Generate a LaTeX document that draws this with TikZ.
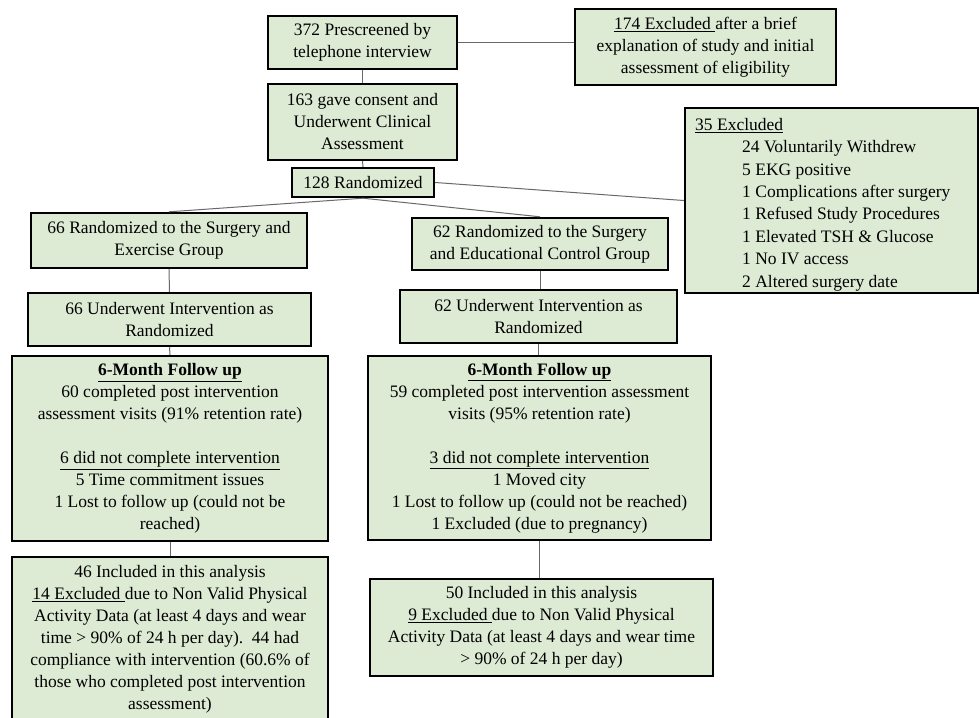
\documentclass[tikz,border=0pt]{standalone}
\usepackage{fontspec}
\setmainfont{Liberation Serif}
\definecolor{boxfill}{RGB}{221,234,212}
\definecolor{linkgray}{RGB}{105,105,105}
\tikzset{
  box/.style={draw=black, line width=2.4pt, fill=boxfill, align=center, inner sep=0pt,
    font=\fontsize{17.5}{22}\selectfont},
  link/.style={draw=linkgray, line width=1pt}
}
\begin{document}
\begin{tikzpicture}[x=1pt,y=-1pt]
\useasboundingbox (0,0) rectangle (979,717);
\clip (0,0) rectangle (979,717);
\fill[white] (0,0) rectangle (979,717);

\node[box, minimum width=189pt, minimum height=53pt] (A) at (362.5,42.5)
  {372 Prescreened by\\telephone interview};
\node[box, minimum width=189pt, minimum height=76pt] (B) at (362.5,122)
  {163 gave consent and\\Underwent Clinical\\Assessment};
\node[box, minimum width=142pt, minimum height=29pt] (C) at (363,182.5)
  {128 Randomized};
\node[box, minimum width=261pt, minimum height=76pt] (D) at (705.5,47)
  {\underline{174 Excluded\ }after a brief\\explanation of study and initial\\assessment of eligibility};
\node[box, minimum width=293pt, minimum height=185pt] (E) at (831.5,200.5) {};
\node[anchor=north west, align=left, inner sep=0pt,
  font=\fontsize{17.5}{22.4}\selectfont] (Etxt) at (695,118)
  {\underline{35 Excluded}\\
   \hspace*{47pt}24 Voluntarily Withdrew\\
   \hspace*{47pt}5 EKG positive\\
   \hspace*{47pt}1 Complications after surgery\\
   \hspace*{47pt}1 Refused Study Procedures\\
   \hspace*{47pt}1 Elevated TSH \& Glucose\\
   \hspace*{47pt}1 No IV access\\
   \hspace*{47pt}2 Altered surgery date};
\node[box, minimum width=276pt, minimum height=55pt] (F) at (169,240.5)
  {66 Randomized to the Surgery and\\Exercise Group};
\node[box, minimum width=256pt, minimum height=52pt] (G) at (540,244)
  {62 Randomized to the Surgery\\and Educational Control Group};
\node[box, minimum width=283pt, minimum height=53pt] (H) at (169.5,319.5)
  {66 Underwent Intervention as\\Randomized};
\node[box, minimum width=277pt, minimum height=53pt] (I) at (538.5,316.5)
  {62 Underwent Intervention as\\Randomized};
\node[box, minimum width=316pt, minimum height=185pt] (J) at (170,448.5)
  {\textbf{\underline{6-Month Follow up}}\\
   60 completed post intervention\\
   assessment visits (91\% retention rate)\\[22pt]
   \underline{6 did not complete intervention}\\
   5 Time commitment issues\\
   1 Lost to follow up (could not be\\
   reached)};
\node[box, minimum width=343pt, minimum height=184pt] (L) at (539.5,448)
  {\textbf{\underline{6-Month Follow up}}\\
   59 completed post intervention assessment\\
   visits (95\% retention rate)\\[22pt]
   \underline{3 did not complete intervention}\\
   1 Moved city\\
   1 Lost to follow up (could not be reached)\\
   1 Excluded (due to pregnancy)};
\node[box, minimum width=316pt, minimum height=165pt] (K) at (170,639.5)
  {46 Included in this analysis\\
   \underline{14 Excluded\ }due to Non Valid Physical\\
   Activity Data (at least 4 days and wear\\
   time > 90\% of 24 h per day).\ \ 44 had\\
   compliance with intervention (60.6\% of\\
   those who completed post intervention\\
   assessment)};
\node[box, minimum width=343pt, minimum height=97pt] (M) at (541.5,627.5)
  {50 Included in this analysis\\
   \underline{9 Excluded\ }due to Non Valid Physical\\
   Activity Data (at least 4 days and wear time\\
   > 90\% of 24 h per day)};

\draw[link] (A.east) -- (A.east -| D.west);
\draw[link] (A.south) -- (B.north);
\draw[link] (B.south) -- (C.north);
\draw[link] (C.east) -- (E.west);
\draw[link] (C.south) -- (F.north);
\draw[link] (C.south) -- (G.north);
\draw[link] (F.south) -- (H.north);
\draw[link] (H.south) -- (J.north);
\draw[link] (J.south) -- (K.north);
\draw[link] (G.south) -- (I.north -| G.south);
\draw[link] (I.south) -- (L.north -| I.south);
\draw[link] (L.south) -- (M.north -| L.south);
\end{tikzpicture}
\end{document}
